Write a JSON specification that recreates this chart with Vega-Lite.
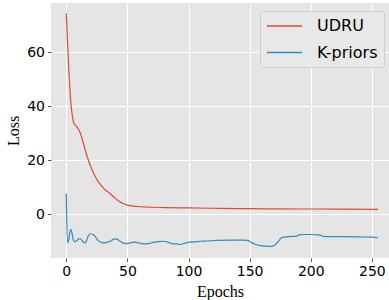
{
  "$schema": "https://vega.github.io/schema/vega-lite/v6.json",
  "width": 338,
  "height": 255,
  "autosize": "none",
  "padding": {"left": 51, "top": 3, "right": 0, "bottom": 42},
  "background": "white",
  "config": {
    "view": {"fill": "#E5E5E5", "stroke": null},
    "axis": {
      "gridColor": "white",
      "gridWidth": 1,
      "domain": false,
      "tickColor": "#555555",
      "tickSize": 3.5,
      "labelFont": "DejaVu Sans",
      "labelFontSize": 14,
      "labelColor": "#000000",
      "labelPadding": 3,
      "titleFont": "Liberation Serif",
      "titleFontSize": 16,
      "titleFontWeight": "normal",
      "titleColor": "#000000"
    }
  },
  "datasets": {
    "d": [
      {"epoch": 0, "loss": 74.5, "method": "UDRU"},
      {"epoch": 1, "loss": 64, "method": "UDRU"},
      {"epoch": 2, "loss": 54, "method": "UDRU"},
      {"epoch": 3, "loss": 46, "method": "UDRU"},
      {"epoch": 4, "loss": 40, "method": "UDRU"},
      {"epoch": 5, "loss": 36.5, "method": "UDRU"},
      {"epoch": 6, "loss": 34, "method": "UDRU"},
      {"epoch": 7, "loss": 33.2, "method": "UDRU"},
      {"epoch": 8, "loss": 32.7, "method": "UDRU"},
      {"epoch": 9, "loss": 32.2, "method": "UDRU"},
      {"epoch": 10, "loss": 31.5, "method": "UDRU"},
      {"epoch": 11, "loss": 30.5, "method": "UDRU"},
      {"epoch": 12, "loss": 29.5, "method": "UDRU"},
      {"epoch": 13, "loss": 28, "method": "UDRU"},
      {"epoch": 14, "loss": 26.3, "method": "UDRU"},
      {"epoch": 15, "loss": 24.6, "method": "UDRU"},
      {"epoch": 16, "loss": 23, "method": "UDRU"},
      {"epoch": 17, "loss": 21.5, "method": "UDRU"},
      {"epoch": 18, "loss": 20.2, "method": "UDRU"},
      {"epoch": 19, "loss": 18.8, "method": "UDRU"},
      {"epoch": 20, "loss": 17.6, "method": "UDRU"},
      {"epoch": 22, "loss": 15.6, "method": "UDRU"},
      {"epoch": 24, "loss": 13.7, "method": "UDRU"},
      {"epoch": 26, "loss": 12.2, "method": "UDRU"},
      {"epoch": 28, "loss": 11, "method": "UDRU"},
      {"epoch": 30, "loss": 9.9, "method": "UDRU"},
      {"epoch": 32, "loss": 9, "method": "UDRU"},
      {"epoch": 34, "loss": 8.3, "method": "UDRU"},
      {"epoch": 36, "loss": 7.6, "method": "UDRU"},
      {"epoch": 38, "loss": 6.8, "method": "UDRU"},
      {"epoch": 40, "loss": 6, "method": "UDRU"},
      {"epoch": 42, "loss": 5.2, "method": "UDRU"},
      {"epoch": 44, "loss": 4.6, "method": "UDRU"},
      {"epoch": 46, "loss": 4.1, "method": "UDRU"},
      {"epoch": 48, "loss": 3.7, "method": "UDRU"},
      {"epoch": 50, "loss": 3.4, "method": "UDRU"},
      {"epoch": 55, "loss": 3.0, "method": "UDRU"},
      {"epoch": 60, "loss": 2.8, "method": "UDRU"},
      {"epoch": 65, "loss": 2.7, "method": "UDRU"},
      {"epoch": 70, "loss": 2.6, "method": "UDRU"},
      {"epoch": 80, "loss": 2.5, "method": "UDRU"},
      {"epoch": 100, "loss": 2.35, "method": "UDRU"},
      {"epoch": 125, "loss": 2.2, "method": "UDRU"},
      {"epoch": 150, "loss": 2.1, "method": "UDRU"},
      {"epoch": 175, "loss": 2.0, "method": "UDRU"},
      {"epoch": 200, "loss": 1.95, "method": "UDRU"},
      {"epoch": 225, "loss": 1.9, "method": "UDRU"},
      {"epoch": 255, "loss": 1.8, "method": "UDRU"},
      {"epoch": 0, "loss": 7.6, "method": "K-priors"},
      {"epoch": 1, "loss": -10.6, "method": "K-priors"},
      {"epoch": 2, "loss": -9.5, "method": "K-priors"},
      {"epoch": 3, "loss": -6.5, "method": "K-priors"},
      {"epoch": 4, "loss": -5.7, "method": "K-priors"},
      {"epoch": 5, "loss": -7.8, "method": "K-priors"},
      {"epoch": 6, "loss": -9.8, "method": "K-priors"},
      {"epoch": 7, "loss": -10.2, "method": "K-priors"},
      {"epoch": 8, "loss": -10.0, "method": "K-priors"},
      {"epoch": 9, "loss": -9.6, "method": "K-priors"},
      {"epoch": 10, "loss": -9.2, "method": "K-priors"},
      {"epoch": 11, "loss": -9.0, "method": "K-priors"},
      {"epoch": 12, "loss": -9.2, "method": "K-priors"},
      {"epoch": 13, "loss": -9.8, "method": "K-priors"},
      {"epoch": 14, "loss": -10.4, "method": "K-priors"},
      {"epoch": 15, "loss": -10.6, "method": "K-priors"},
      {"epoch": 16, "loss": -10.3, "method": "K-priors"},
      {"epoch": 17, "loss": -9.2, "method": "K-priors"},
      {"epoch": 18, "loss": -8.0, "method": "K-priors"},
      {"epoch": 19, "loss": -7.4, "method": "K-priors"},
      {"epoch": 20, "loss": -7.3, "method": "K-priors"},
      {"epoch": 21, "loss": -7.3, "method": "K-priors"},
      {"epoch": 22, "loss": -7.5, "method": "K-priors"},
      {"epoch": 23, "loss": -7.9, "method": "K-priors"},
      {"epoch": 24, "loss": -8.5, "method": "K-priors"},
      {"epoch": 25, "loss": -9.1, "method": "K-priors"},
      {"epoch": 26, "loss": -9.7, "method": "K-priors"},
      {"epoch": 28, "loss": -10.3, "method": "K-priors"},
      {"epoch": 30, "loss": -10.6, "method": "K-priors"},
      {"epoch": 32, "loss": -10.5, "method": "K-priors"},
      {"epoch": 34, "loss": -10.3, "method": "K-priors"},
      {"epoch": 36, "loss": -10.0, "method": "K-priors"},
      {"epoch": 38, "loss": -9.4, "method": "K-priors"},
      {"epoch": 40, "loss": -9.1, "method": "K-priors"},
      {"epoch": 42, "loss": -9.3, "method": "K-priors"},
      {"epoch": 44, "loss": -10.0, "method": "K-priors"},
      {"epoch": 46, "loss": -10.5, "method": "K-priors"},
      {"epoch": 49, "loss": -10.9, "method": "K-priors"},
      {"epoch": 52, "loss": -10.6, "method": "K-priors"},
      {"epoch": 55, "loss": -10.3, "method": "K-priors"},
      {"epoch": 58, "loss": -10.5, "method": "K-priors"},
      {"epoch": 61, "loss": -10.8, "method": "K-priors"},
      {"epoch": 64, "loss": -11.0, "method": "K-priors"},
      {"epoch": 68, "loss": -10.8, "method": "K-priors"},
      {"epoch": 72, "loss": -10.3, "method": "K-priors"},
      {"epoch": 76, "loss": -10.1, "method": "K-priors"},
      {"epoch": 80, "loss": -10.0, "method": "K-priors"},
      {"epoch": 83, "loss": -10.3, "method": "K-priors"},
      {"epoch": 86, "loss": -10.8, "method": "K-priors"},
      {"epoch": 90, "loss": -11.0, "method": "K-priors"},
      {"epoch": 93, "loss": -11.2, "method": "K-priors"},
      {"epoch": 97, "loss": -10.7, "method": "K-priors"},
      {"epoch": 101, "loss": -10.3, "method": "K-priors"},
      {"epoch": 105, "loss": -10.2, "method": "K-priors"},
      {"epoch": 110, "loss": -10.0, "method": "K-priors"},
      {"epoch": 115, "loss": -9.9, "method": "K-priors"},
      {"epoch": 123, "loss": -9.7, "method": "K-priors"},
      {"epoch": 135, "loss": -9.6, "method": "K-priors"},
      {"epoch": 145, "loss": -9.6, "method": "K-priors"},
      {"epoch": 148, "loss": -9.7, "method": "K-priors"},
      {"epoch": 150, "loss": -10.0, "method": "K-priors"},
      {"epoch": 152, "loss": -10.6, "method": "K-priors"},
      {"epoch": 155, "loss": -11.2, "method": "K-priors"},
      {"epoch": 159, "loss": -11.6, "method": "K-priors"},
      {"epoch": 164, "loss": -11.8, "method": "K-priors"},
      {"epoch": 168, "loss": -11.9, "method": "K-priors"},
      {"epoch": 170, "loss": -11.6, "method": "K-priors"},
      {"epoch": 172, "loss": -10.8, "method": "K-priors"},
      {"epoch": 174, "loss": -9.8, "method": "K-priors"},
      {"epoch": 176, "loss": -8.7, "method": "K-priors"},
      {"epoch": 180, "loss": -8.4, "method": "K-priors"},
      {"epoch": 185, "loss": -8.2, "method": "K-priors"},
      {"epoch": 189, "loss": -8.1, "method": "K-priors"},
      {"epoch": 190, "loss": -7.6, "method": "K-priors"},
      {"epoch": 195, "loss": -7.5, "method": "K-priors"},
      {"epoch": 200, "loss": -7.5, "method": "K-priors"},
      {"epoch": 205, "loss": -7.6, "method": "K-priors"},
      {"epoch": 208, "loss": -7.7, "method": "K-priors"},
      {"epoch": 210, "loss": -8.2, "method": "K-priors"},
      {"epoch": 220, "loss": -8.3, "method": "K-priors"},
      {"epoch": 230, "loss": -8.3, "method": "K-priors"},
      {"epoch": 240, "loss": -8.4, "method": "K-priors"},
      {"epoch": 250, "loss": -8.5, "method": "K-priors"},
      {"epoch": 255, "loss": -8.7, "method": "K-priors"}
    ]
  },
  "data": {"name": "d"},
  "mark": {"type": "line", "strokeWidth": 1.2, "interpolate": "monotone", "clip": true},
  "encoding": {
    "x": {
      "field": "epoch",
      "type": "quantitative",
      "title": "Epochs",
      "scale": {"domain": [-12.5, 264], "nice": false, "zero": false},
      "axis": {"values": [0, 50, 100, 150, 200, 250], "titlePadding": 5}
    },
    "y": {
      "field": "loss",
      "type": "quantitative",
      "title": "Loss",
      "scale": {"domain": [-16.2, 78.3], "nice": false, "zero": false},
      "axis": {"values": [0, 20, 40, 60], "titlePadding": 5}
    },
    "color": {
      "field": "method",
      "type": "nominal",
      "title": null,
      "scale": {"domain": ["UDRU", "K-priors"], "range": ["#E24A33", "#348ABD"]},
      "legend": {
        "orient": "none",
        "legendX": 209,
        "legendY": 8,
        "symbolType": "M-1,0H3.4",
        "symbolSize": 256,
        "symbolStrokeWidth": 1.5,
        "symbolFillColor": "transparent",
        "labelFont": "DejaVu Sans",
        "labelFontSize": 16,
        "labelColor": "#000000",
        "labelOffset": 33,
        "rowPadding": 9.5,
        "padding": 6,
        "fillColor": "#E8E8E8",
        "strokeColor": "#CCCCCC",
        "cornerRadius": 3
      }
    },
    "order": {"field": "epoch", "type": "quantitative"}
  }
}
